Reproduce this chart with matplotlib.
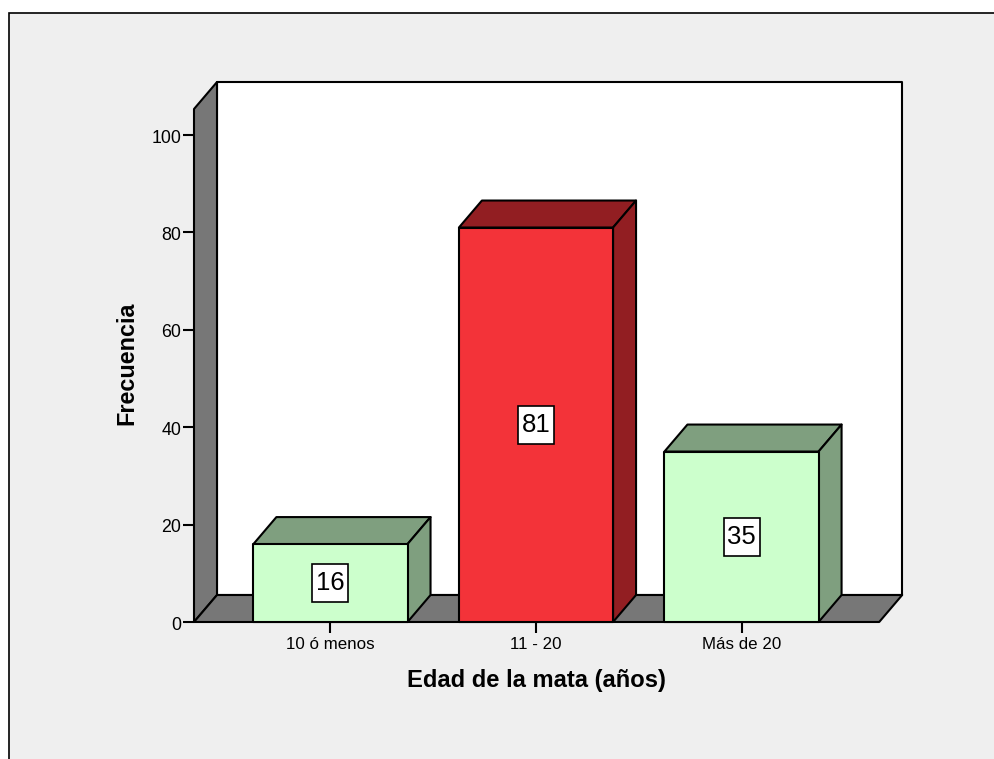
import matplotlib
matplotlib.use("Agg")
import matplotlib.pyplot as plt
from matplotlib.patches import Polygon, Rectangle
from matplotlib.transforms import ScaledTranslation

plt.rcParams['font.family'] = ['Liberation Sans', 'DejaVu Sans']

# Frequency of plots by stand age
categories = ['10 ó menos', '11 - 20', 'Más de 20']
frequencies = [16, 81, 35]
front_colors = ['#CCFFCC', '#F33339', '#CCFFCC']
side_colors = ['#7F9F7F', '#921E22', '#7F9F7F']
y_ticks = [0, 20, 40, 60, 80, 100]

W, H = 994, 759
BG = '#EFEFEF'
WALL = '#777777'
BAR_WIDTH = 0.75
XLIM = (-0.664, 2.670)
YLIM = (0, 105.34)
LW = 1.5

fig = plt.figure(figsize=(W / 100, H / 100), dpi=100, facecolor='white')

# Panel frame runs off the right and bottom edges of the figure
fig.add_artist(Rectangle((8.5 / W, -0.05), 1.1, 1.05 - 12.5 / H,
                         transform=fig.transFigure, facecolor=BG,
                         edgecolor='black', linewidth=1.2, zorder=-1))

ax = fig.add_axes([194 / W, (H - 622) / H, 685.2 / W, 513 / H])
ax.set_xlim(*XLIM)
ax.set_ylim(*YLIM)
ax.patch.set_visible(False)
for spine in ax.spines.values():
    spine.set_visible(False)

# Scale factors between pixels and data units, used for depth and label boxes
x_per_px = (XLIM[1] - XLIM[0]) / 685.2
y_per_px = (YLIM[1] - YLIM[0]) / 513
dx = 23 * x_per_px
dy = 27 * y_per_px


def face(points, color, z):
    ax.add_patch(Polygon(points, closed=True, facecolor=color, edgecolor='black',
                         linewidth=LW, joinstyle='round', clip_on=False, zorder=z))


x0, x1 = XLIM
top = YLIM[1]
face([(x0 + dx, dy), (x1 + dx, dy), (x1 + dx, top + dy), (x0 + dx, top + dy)], 'white', 1)
face([(x0, 0), (x0 + dx, dy), (x0 + dx, top + dy), (x0, top)], WALL, 2)
face([(x0, 0), (x1, 0), (x1 + dx, dy), (x0 + dx, dy)], WALL, 2)

# Bars with top and side faces, each carrying its count in a white box
box_w, box_h = 36 * x_per_px, 38 * y_per_px
for i, (value, front, side) in enumerate(zip(frequencies, front_colors, side_colors)):
    left, right = i - BAR_WIDTH / 2, i + BAR_WIDTH / 2
    face([(left, value), (right, value), (right + dx, value + dy), (left + dx, value + dy)], side, 3)
    face([(right, 0), (right + dx, dy), (right + dx, value + dy), (right, value)], side, 3)
    face([(left, 0), (right, 0), (right, value), (left, value)], front, 4)
    ax.add_patch(Rectangle((i - box_w / 2, value / 2 - box_h / 2), box_w, box_h,
                           facecolor='white', edgecolor='black', linewidth=1.2, zorder=5))
    ax.text(i, value / 2, str(value), ha='center', va='center', fontsize=18.5, color='black',
            zorder=6)

ax.set_xticks(range(len(categories)), categories)
ax.set_yticks(y_ticks)
ax.tick_params(axis='x', length=8, width=1.5, labelsize=12.2, pad=3, color='black')
ax.tick_params(axis='y', length=8, width=1.5, labelsize=12.8, pad=1, color='black')
for tick in ax.xaxis.get_major_ticks() + ax.yaxis.get_major_ticks():
    tick.tick1line.set_zorder(6)

# Value labels on the y axis sit slightly below their tick marks
nudge = ScaledTranslation(0, -1 / 100, fig.dpi_scale_trans)
for label in ax.get_yticklabels():
    label.set_transform(label.get_transform() + nudge)

fig.text(536 / W, 1 - 687 / H, 'Edad de la mata (años)', ha='center', va='baseline',
         fontsize=17.1, fontweight='bold')
fig.text(127 / W, 1 - 363 / H, 'Frecuencia', ha='center', va='center', rotation=90,
         fontsize=16.8, fontweight='bold')

fig.savefig('out.png', dpi=100, facecolor='white')
